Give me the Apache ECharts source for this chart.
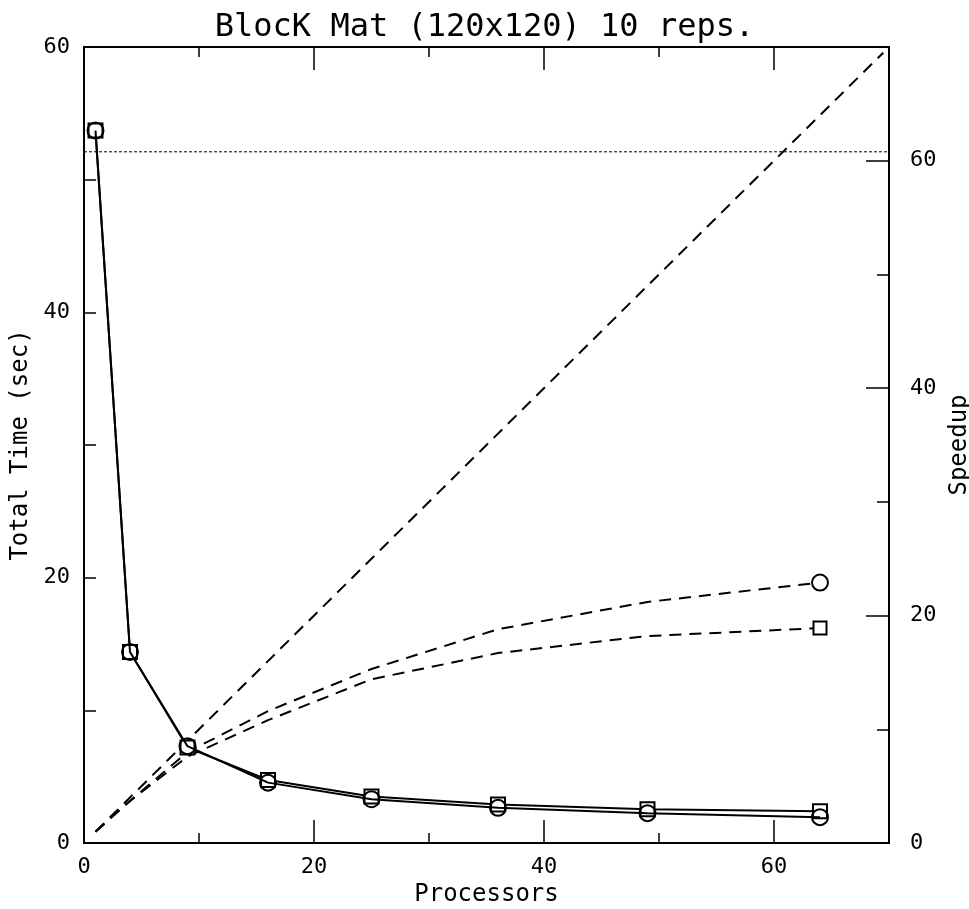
<!DOCTYPE html>
<html>
<head>
<meta charset="utf-8">
<title>BlocK Mat (120x120) 10 reps.</title>
<script src="https://cdn.jsdelivr.net/npm/echarts@6/dist/echarts.min.js"></script>
<style>
  html, body { margin: 0; padding: 0; background: #fff; }
  #chart { width: 969px; height: 909px; }
</style>
</head>
<body>
<div id="chart"></div>
<script>
// Processor counts (square grids of processors)
const processors = [1, 4, 9, 16, 25, 36, 49, 64];

// Total run time in seconds, two variants (circle / square markers)
const timeCircle = [53.7, 14.4, 7.3, 4.55, 3.3, 2.65, 2.25, 1.95];
const timeSquare = [53.7, 14.4, 7.2, 4.75, 3.5, 2.9, 2.55, 2.4];

// Measured speedup for the same two variants
const speedupCircle = [1, 3.7, 8.0, 11.6, 15.3, 18.8, 21.2, 22.9];
const speedupSquare = [1, 3.7, 7.6, 10.8, 14.4, 16.7, 18.2, 18.9];

// Ideal (linear) speedup reference
const idealProcs = [1, 69.5];

// Sequential reference time (seconds)
const sequentialProcs = [0, 70];
const sequentialTime = 52.1;

// Labelled tick values
const xTickLabels = [0, 20, 40, 60];
const timeTickLabels = [0, 20, 40, 60];
const speedupTickLabels = [0, 20, 40, 60];

const FONT = 'DejaVu Sans Mono';
const INK = '#000';

const chart = echarts.init(document.getElementById('chart'), null, { renderer: 'canvas' });

// Both grids share the same plotting rectangle; the second one only carries long ticks
const gridRect = {
  left: 84, right: 80, top: 47, bottom: 66,
  containLabel: false, outerBoundsMode: 'none'
};

function pairs(xs, ys) { return xs.map((x, i) => [x, ys[i]]); }

function labelOnly(list) {
  return function (v) { return list.indexOf(v) >= 0 ? String(v) : ''; };
}

const lineAxis = { show: true, onZero: false, lineStyle: { color: INK, width: 2 } };
const noLine = { show: false, onZero: false };
const noLabel = { show: false };
const noSplit = { show: false };

function ticks(len) {
  return { show: true, inside: true, length: len, lineStyle: { color: INK, width: 1.5 } };
}

const labelStyle = { color: INK, fontFamily: FONT, fontSize: 22 };
const nameStyle = { color: INK, fontFamily: FONT, fontSize: 24 };

const option = {
  animation: false,
  backgroundColor: '#fff',
  title: {
    text: 'BlocK Mat (120x120) 10 reps.',
    left: 'center',
    top: 7,
    textStyle: { color: INK, fontFamily: FONT, fontSize: 32, fontWeight: 'normal' }
  },
  grid: [
    Object.assign({}, gridRect),
    Object.assign({}, gridRect)
  ],
  xAxis: [
    { // bottom: short ticks every 10 + labels
      type: 'value', gridIndex: 0, position: 'bottom', min: 0, max: 70, interval: 10,
      axisLine: lineAxis, axisTick: ticks(10), splitLine: noSplit,
      axisLabel: Object.assign({ margin: 13, formatter: labelOnly(xTickLabels), showMaxLabel: false }, labelStyle),
      name: 'Processors', nameLocation: 'middle', nameGap: 37, nameTextStyle: nameStyle
    },
    { // top: short ticks every 10
      type: 'value', gridIndex: 0, position: 'top', min: 0, max: 70, interval: 10,
      axisLine: lineAxis, axisTick: ticks(10), splitLine: noSplit, axisLabel: noLabel
    },
    { // bottom: long ticks every 20
      type: 'value', gridIndex: 1, position: 'bottom', min: 0, max: 70, interval: 20,
      axisLine: noLine, axisTick: ticks(23), splitLine: noSplit, axisLabel: noLabel
    },
    { // top: long ticks every 20
      type: 'value', gridIndex: 1, position: 'top', min: 0, max: 70, interval: 20,
      axisLine: noLine, axisTick: ticks(23), splitLine: noSplit, axisLabel: noLabel
    }
  ],
  yAxis: [
    { // left: total time
      type: 'value', gridIndex: 0, position: 'left', min: 0, max: 60, interval: 10,
      axisLine: lineAxis, axisTick: ticks(12), splitLine: noSplit,
      axisLabel: Object.assign({ margin: 14, formatter: labelOnly(timeTickLabels) }, labelStyle),
      name: 'Total Time (sec)', nameLocation: 'middle', nameGap: 50, nameTextStyle: nameStyle
    },
    { // right: speedup, short ticks every 10
      type: 'value', gridIndex: 0, position: 'right', min: 0, max: 70, interval: 10,
      axisLine: lineAxis, axisTick: ticks(12), splitLine: noSplit,
      axisLabel: Object.assign({ margin: 21, formatter: labelOnly(speedupTickLabels), showMaxLabel: false }, labelStyle),
      name: 'Speedup', nameLocation: 'middle', nameGap: 55, nameRotate: 90, nameTextStyle: nameStyle
    },
    { // placeholder left axis for the second grid
      type: 'value', gridIndex: 1, position: 'left', min: 0, max: 60, interval: 20,
      axisLine: noLine, axisTick: { show: false }, splitLine: noSplit, axisLabel: noLabel
    },
    { // right: long ticks every 20
      type: 'value', gridIndex: 1, position: 'right', min: 0, max: 70, interval: 20,
      axisLine: noLine, axisTick: ticks(23), splitLine: noSplit, axisLabel: noLabel
    }
  ],
  series: [
    {
      name: 'Sequential time', type: 'line', xAxisIndex: 0, yAxisIndex: 0,
      data: sequentialProcs.map(x => [x, sequentialTime]),
      symbol: 'none', silent: true,
      lineStyle: { color: INK, width: 1, type: [3, 2] }, z: 2
    },
    {
      name: 'Ideal speedup', type: 'line', xAxisIndex: 0, yAxisIndex: 1,
      data: pairs(idealProcs, idealProcs),
      symbol: 'none', silent: true,
      lineStyle: { color: INK, width: 2, type: [12, 8] }, z: 2
    },
    {
      name: 'Speedup (square)', type: 'line', xAxisIndex: 0, yAxisIndex: 1,
      data: processors.map((p, i) => ({
        value: [p, speedupSquare[i]],
        symbol: i === processors.length - 1 ? 'rect' : 'none'
      })),
      symbol: 'rect', symbolSize: 13,
      itemStyle: { color: '#fff', borderColor: INK, borderWidth: 2 },
      lineStyle: { color: INK, width: 2, type: [12, 8] }, z: 3
    },
    {
      name: 'Speedup (circle)', type: 'line', xAxisIndex: 0, yAxisIndex: 1,
      data: processors.map((p, i) => ({
        value: [p, speedupCircle[i]],
        symbol: i === processors.length - 1 ? 'circle' : 'none'
      })),
      symbol: 'circle', symbolSize: 16,
      itemStyle: { color: '#fff', borderColor: INK, borderWidth: 2 },
      lineStyle: { color: INK, width: 2, type: [12, 8] }, z: 3
    },
    {
      name: 'Time (square)', type: 'line', xAxisIndex: 0, yAxisIndex: 0,
      data: pairs(processors, timeSquare),
      symbol: 'rect', symbolSize: 14,
      itemStyle: { color: '#fff', borderColor: INK, borderWidth: 2 },
      lineStyle: { color: INK, width: 2 }, z: 4
    },
    {
      name: 'Time (circle)', type: 'line', xAxisIndex: 0, yAxisIndex: 0,
      data: pairs(processors, timeCircle),
      symbol: 'circle', symbolSize: 16,
      itemStyle: { color: 'rgba(255,255,255,0)', borderColor: INK, borderWidth: 2 },
      lineStyle: { color: INK, width: 2 }, z: 5
    }
  ]
};

chart.setOption(option);
</script>
</body>
</html>
